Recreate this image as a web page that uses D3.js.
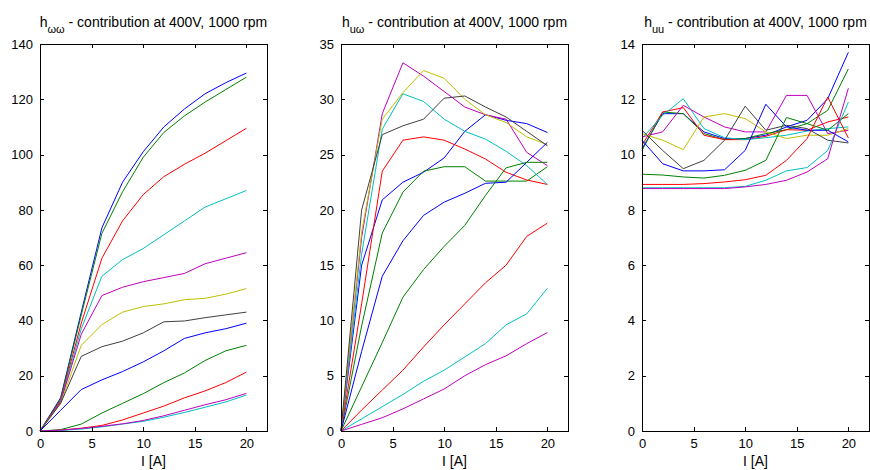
<!DOCTYPE html>
<html lang="en">
<head>
<meta charset="UTF-8" />
<title>h contributions at 400V, 1000 rpm</title>
<script src="https://cdn.jsdelivr.net/npm/d3@7/dist/d3.min.js"></script>
<style>
    html, body { margin: 0; padding: 0; background: #fff; }
    svg { display: block; font-family: "Liberation Sans", Arial, sans-serif; }
    .axis path, .axis line { stroke: #000; shape-rendering: crispEdges; }
    .axis text { font-size: 13px; fill: #000; }
    .series { fill: none; stroke-width: 1; }
</style>
</head>
<body>
<svg id="chart" width="870" height="470"></svg>
<script>
    // current samples, A
    const current = [0, 2, 4, 6, 8, 10, 12, 14, 16, 18, 20]

    // matlab line colour order
    const lineColors = ['#0000ff', '#008000', '#ff0000', '#00bfbf', '#bf00bf', '#bfbf00', '#404040']

    const titles = ['ωω', 'uω', 'uu']
    const yMax = [140, 35, 14]
    const yStep = [20, 5, 2]
    const xTicks = [0, 5, 10, 15, 20]

    // h_ww, one row per curve
    const hww = [
        [0, 12, 43, 73.5, 90, 101, 110, 116.5, 122, 126, 129.5],
        [0, 11.5, 42, 71.5, 86.5, 99, 108, 114, 119, 123.5, 128],
        [0, 11, 39, 62.5, 76, 85.5, 92, 96.5, 100.5, 105, 109.5],
        [0, 10.5, 37, 56, 62, 66, 71, 76, 81, 84, 87],
        [0, 10.5, 35, 49, 52, 54, 55.5, 57, 60.5, 62.5, 64.5],
        [0, 10, 31, 38.5, 43, 45, 46, 47.5, 48, 49.5, 51.5],
        [0, 10, 27, 30.5, 32.5, 35.5, 39.5, 39.8, 41, 42, 43],
        [0, 7.5, 15, 18.5, 21.5, 25, 29, 33.5, 35.5, 37, 39],
        [0, 0.5, 2.5, 6.5, 10, 13.5, 17.5, 21, 25.5, 29, 31],
        [0, 0.3, 1, 2, 4, 6.5, 9, 12, 14.5, 17.5, 21.3],
        [0, 0.2, 0.7, 1.5, 2.5, 3.5, 5, 6.7, 8.6, 10.5, 13],
        [0, 0.3, 0.9, 1.7, 2.6, 3.8, 5.5, 7.5, 9.5, 11.3, 13.6]
    ]

    // h_uw
    const huw = [
        [0, 15, 20.9, 22.5, 23.4, 24.7, 27.1, 28.6, 28.1, 27.8, 27.0],
        [0, 9.5, 17.9, 21.6, 23.5, 23.9, 23.9, 22.6, 22.6, 22.6, 23.9],
        [0, 11.5, 23.5, 26.3, 26.6, 26.3, 25.5, 24.6, 23.4, 22.7, 22.3],
        [0, 16, 27.3, 30.5, 29.8, 28.2, 27.1, 26.4, 25.3, 24.0, 22.3],
        [0, 17.5, 28.7, 33.3, 32.1, 30.7, 29.3, 28.6, 28.2, 25.2, 24.0],
        [0, 18, 28.2, 30.6, 32.6, 31.9, 30.0, 28.6, 27.9, 26.6, 25.9],
        [0, 20, 26.8, 27.6, 28.2, 30.1, 30.3, 29.3, 28.4, 27.1, 25.8],
        [0, 7.2, 14, 17.2, 19.5, 20.7, 21.5, 22.4, 22.5, 24.3, 26.1],
        [0, 4, 8, 12.1, 14.6, 16.7, 18.6, 21.3, 23.8, 24.3, 24.3],
        [0, 1.9, 3.7, 5.5, 7.6, 9.6, 11.5, 13.4, 15, 17.6, 18.8],
        [0, 1.1, 2.2, 3.3, 4.5, 5.5, 6.7, 7.9, 9.6, 10.6, 12.9],
        [0, 0.6, 1.2, 2.0, 2.9, 3.8, 5.0, 6.0, 6.8, 7.9, 8.9]
    ]

    // h_uu
    const huu = [
        [10.21, 11.48, 11.48, 10.82, 10.58, 10.58, 10.70, 11.0, 11.24, 12.02, 13.7],
        [10.15, 11.54, 11.48, 10.76, 10.54, 10.58, 10.76, 10.90, 11.12, 11.60, 13.1],
        [10.34, 11.54, 11.70, 10.70, 10.54, 10.54, 10.66, 10.90, 10.88, 11.18, 11.36],
        [10.58, 11.42, 12.02, 10.94, 10.61, 10.54, 10.61, 10.70, 10.85, 10.94, 11.0],
        [10.64, 10.82, 11.78, 11.36, 11.0, 10.82, 10.82, 12.14, 12.14, 10.76, 10.88],
        [10.76, 10.52, 10.18, 11.36, 11.48, 11.30, 10.82, 10.58, 10.70, 10.70, 10.94],
        [10.88, 10.15, 9.49, 9.79, 10.52, 11.75, 10.88, 11.06, 10.94, 10.52, 10.42],
        [10.52, 9.67, 9.41, 9.41, 9.45, 10.15, 11.82, 11.0, 10.88, 10.88, 10.46],
        [9.29, 9.26, 9.19, 9.15, 9.25, 9.43, 9.79, 11.34, 11.12, 10.88, 11.48],
        [8.92, 8.92, 8.92, 8.95, 9.01, 9.09, 9.25, 9.79, 10.58, 12.08, 10.6],
        [8.80, 8.80, 8.80, 8.80, 8.80, 8.85, 9.07, 9.41, 9.53, 10.15, 11.9],
        [8.77, 8.77, 8.77, 8.77, 8.77, 8.83, 8.92, 9.07, 9.37, 9.85, 12.4]
    ]

    const panels = [hww, huw, huu]

    const layout = {
        left: [40, 341, 642],
        width: 227,
        top: 44,
        bottom: 431
    }

    const svg = d3.select('#chart')

    panels.forEach((rows, p) => {
        const x0 = layout.left[p]
        const x = d3.scaleLinear().domain([0, 22]).range([x0, x0 + layout.width])
        const y = d3.scaleLinear().domain([0, yMax[p]]).range([layout.bottom, layout.top])
        const yTicks = d3.range(0, yMax[p] + yStep[p] / 2, yStep[p])

        const g = svg.append('g')

        // curves
        const line = d3.line()
            .x((d, i) => x(current[i]))
            .y(d => y(d))

        g.selectAll('path.series')
            .data(rows)
            .enter()
                .append('path')
                .attr('class', 'series')
                .attr('d', d => line(d))
                .style('stroke', (d, i) => lineColors[i % lineColors.length])

        // box with inward ticks
        g.append('g')
            .attr('class', 'axis')
            .attr('transform', `translate(0,${layout.bottom})`)
            .call(d3.axisBottom(x).tickValues(xTicks).tickSize(-4).tickSizeOuter(0).tickPadding(8))
        g.append('g')
            .attr('class', 'axis')
            .attr('transform', `translate(0,${layout.top})`)
            .call(d3.axisTop(x).tickValues(xTicks).tickSize(-4).tickSizeOuter(0).tickFormat(''))
        g.append('g')
            .attr('class', 'axis')
            .attr('transform', `translate(${x0},0)`)
            .call(d3.axisLeft(y).tickValues(yTicks).tickSize(-4).tickSizeOuter(0).tickPadding(7))
        g.append('g')
            .attr('class', 'axis')
            .attr('transform', `translate(${x0 + layout.width},0)`)
            .call(d3.axisRight(y).tickValues(yTicks).tickSize(-4).tickSizeOuter(0).tickFormat(''))

        g.selectAll('.axis .domain').style('stroke', '#000')

        // title with subscript
        const t = g.append('text')
            .attr('x', x0 + layout.width / 2)
            .attr('y', 27)
            .attr('text-anchor', 'middle')
            .style('font-size', '14px')
        t.append('tspan').text('h')
        t.append('tspan').attr('dy', 6).style('font-size', '11px').text(titles[p])
        t.append('tspan').attr('dy', -6).text(' - contribution at 400V, 1000 rpm')

        // x label
        g.append('text')
            .attr('x', x0 + layout.width / 2)
            .attr('y', 466)
            .attr('text-anchor', 'middle')
            .style('font-size', '14px')
            .text('I [A]')
    })
</script>
</body>
</html>
